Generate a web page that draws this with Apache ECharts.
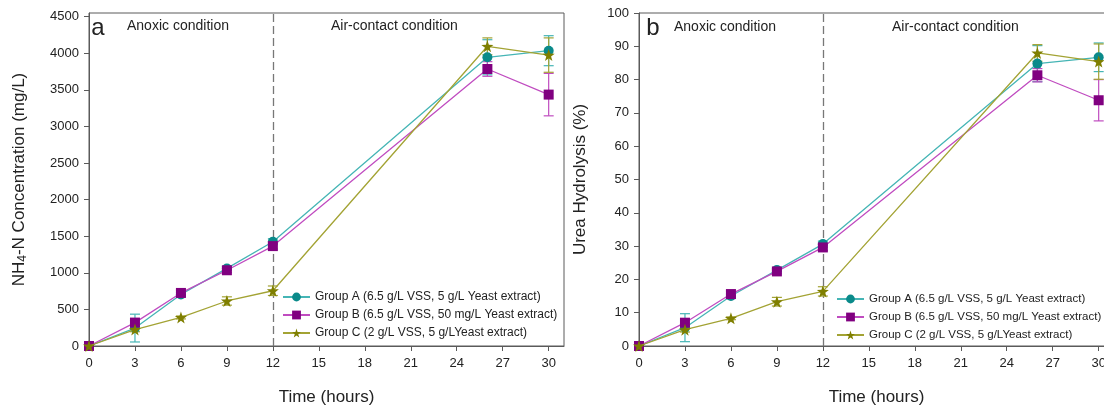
<!DOCTYPE html>
<html>
<head>
<meta charset="utf-8">
<script src="https://cdn.jsdelivr.net/npm/echarts@6/dist/echarts.min.js"></script>
<style>
  html, body { margin: 0; padding: 0; background: #fff; }
  #chart { width: 1104px; height: 409px; }
</style>
</head>
<body>
<div id="chart"></div>
<script>
// Sampling times (hours)
const times = [0, 3, 6, 9, 12, 26, 30];
const groupNames = [
  'Group A (6.5 g/L VSS, 5 g/L Yeast extract)',
  'Group B (6.5 g/L VSS, 50 mg/L Yeast extract)',
  'Group C (2 g/L VSS, 5 g/LYeast extract)'
];

// Panel a: NH4-N concentration (mg/L), mean and error
const nh4A = [0, 245, 705, 1060, 1425, 3945, 4035];
const nh4AErr = [10, 190, 30, 25, 40, 240, 205];
const nh4B = [0, 320, 725, 1035, 1365, 3785, 3435];
const nh4BErr = [10, 30, 40, 30, 40, 100, 290];
const nh4C = [0, 225, 390, 615, 755, 4095, 3975];
const nh4CErr = [10, 30, 20, 57, 65, 115, 235];

// Panel b: urea hydrolysis (%), mean and error
const ureaA = [0, 5.5, 15.0, 22.8, 30.6, 84.8, 86.7];
const ureaAErr = [0.2, 4.2, 0.6, 0.5, 0.9, 5.4, 4.3];
const ureaB = [0, 7.0, 15.6, 22.4, 29.6, 81.3, 73.8];
const ureaBErr = [0.2, 0.7, 0.9, 0.7, 0.9, 2.0, 6.2];
const ureaC = [0, 4.9, 8.3, 13.3, 16.4, 88.0, 85.4];
const ureaCErr = [0.2, 0.7, 0.4, 1.3, 1.4, 2.5, 5.3];

// Tick labels
const timeTicks = [0, 3, 6, 9, 12, 15, 18, 21, 24, 27, 30];
const nh4Ticks = [0, 500, 1000, 1500, 2000, 2500, 3000, 3500, 4000, 4500];
const ureaTicks = [0, 10, 20, 30, 40, 50, 60, 70, 80, 90, 100];

// Phase boundary (hours)
const phaseSwitch = 12;

const styles = [
  { marker: '#0a8a8a', line: '#45b5b5', symbol: 'circle', size: 10 },
  { marker: '#800080', line: '#c04cc0', symbol: 'rect', size: 10 },
  { marker: '#7f7f00', line: '#a3a334', symbol: 'path://M0,-10L2.35,-3.24L9.51,-3.09L3.8,1.24L5.88,8.09L0,4L-5.88,8.09L-3.8,1.24L-9.51,-3.09L-2.35,-3.24Z', size: 12 }
];

const axisColor = '#5a5a5a';
const textColor = '#222';
const fontFamily = 'Liberation Sans, Arial, sans-serif';

function errorRenderer(color) {
  return function (params, api) {
    const x = api.value(0), y = api.value(1), e = api.value(2);
    const top = api.coord([x, y + e]);
    const bot = api.coord([x, y - e]);
    const hw = 5;
    const st = { stroke: color, lineWidth: 1.2 };
    return {
      type: 'group',
      children: [
        { type: 'line', shape: { x1: top[0], y1: top[1], x2: bot[0], y2: bot[1] }, style: st },
        { type: 'line', shape: { x1: top[0] - hw, y1: top[1], x2: top[0] + hw, y2: top[1] }, style: st },
        { type: 'line', shape: { x1: bot[0] - hw, y1: bot[1], x2: bot[0] + hw, y2: bot[1] }, style: st }
      ]
    };
  };
}

function panelSeries(idx, sets) {
  const out = [];
  sets.forEach(([vals, errs], k) => {
    const s = styles[k];
    out.push({
      type: 'custom',
      xAxisIndex: idx, yAxisIndex: idx,
      renderItem: errorRenderer(s.line),
      data: times.map((t, i) => [t, vals[i], errs[i]]),
      encode: { x: 0, y: 1 },
      z: 1, silent: true
    });
  });
  sets.forEach(([vals], k) => {
    const s = styles[k];
    const ser = {
      type: 'line',
      name: groupNames[k],
      xAxisIndex: idx, yAxisIndex: idx,
      data: times.map((t, i) => [t, vals[i]]),
      symbol: s.symbol,
      symbolSize: s.size,
      showAllSymbol: true,
      lineStyle: { color: s.line, width: 1.3 },
      itemStyle: { color: s.marker, borderColor: s.marker, borderWidth: 0 },
      z: 3 + k,
      emphasis: { disabled: true }
    };
    if (k === 0) {
      ser.markLine = {
        silent: true,
        symbol: 'none',
        label: { show: false },
        lineStyle: { color: '#777', type: [8, 4], width: 1.3 },
        data: [{ xAxis: phaseSwitch }],
        z: 0
      };
    }
    out.push(ser);
  });
  return out;
}

const plainNumber = v => String(v);

function xAxisFor(idx) {
  return {
    type: 'value', gridIndex: idx, min: 0, max: 31,
    axisLine: { show: true, lineStyle: { color: axisColor, width: 1 } },
    axisTick: { show: true, length: 5, customValues: timeTicks, lineStyle: { color: axisColor } },
    axisLabel: { customValues: timeTicks, formatter: plainNumber, fontSize: 13, color: textColor, margin: 11, fontFamily: fontFamily },
    splitLine: { show: false },
    name: 'Time (hours)', nameLocation: 'middle', nameGap: 43,
    nameTextStyle: { fontSize: 17, color: textColor, fontFamily: fontFamily }
  };
}

function yAxisFor(idx, max, ticks, name, gap) {
  return {
    type: 'value', gridIndex: idx, min: 0, max: max,
    axisLine: { show: true, lineStyle: { color: axisColor, width: 1 } },
    axisTick: { show: true, length: 5, customValues: ticks, lineStyle: { color: axisColor } },
    axisLabel: { customValues: ticks, formatter: plainNumber, fontSize: 13, color: textColor, margin: 10, fontFamily: fontFamily },
    splitLine: { show: false },
    name: name, nameLocation: 'middle', nameGap: gap,
    nameTextStyle: {
      fontSize: 17, color: textColor, fontFamily: fontFamily,
      rich: { sub: { fontSize: 12, padding: [8, 0, 0, 0], color: textColor, fontFamily: fontFamily } }
    }
  };
}

function legendFor(left, top, fs) {
  return {
    data: groupNames, orient: 'vertical', left: left, top: top,
    itemWidth: 27, itemHeight: 11, itemGap: 6, padding: 0,
    selectedMode: false,
    textStyle: { fontSize: fs, color: textColor, fontFamily: fontFamily }
  };
}

function label(text, x, y, fs, align) {
  return {
    type: 'text', x: x, y: y, silent: true,
    style: { text: text, fontSize: fs, fill: textColor, align: align || 'left', verticalAlign: 'middle', fontFamily: fontFamily }
  };
}

const gridBase = {
  top: 13, width: 475, height: 333, show: true,
  borderColor: axisColor, borderWidth: 1, backgroundColor: 'transparent',
  containLabel: false, outerBoundsMode: 'none'
};

const chart = echarts.init(document.getElementById('chart'), null, { renderer: 'canvas' });
chart.setOption({
  backgroundColor: '#fff',
  animation: false,
  grid: [
    Object.assign({ left: 89 }, gridBase),
    Object.assign({ left: 639 }, gridBase)
  ],
  xAxis: [xAxisFor(0), xAxisFor(1)],
  yAxis: [
    yAxisFor(0, 4550, nh4Ticks, 'NH{sub|4}-N Concentration (mg/L)', 60),
    yAxisFor(1, 100, ureaTicks, 'Urea Hydrolysis (%)', 50)
  ],
  legend: [legendFor(282, 291, 12), legendFor(836, 293, 11.5)],
  graphic: [
    label('a', 98, 28, 24, 'center'),
    label('Anoxic condition', 127, 26, 14),
    label('Air-contact condition', 331, 26, 14),
    label('b', 653, 28, 24, 'center'),
    label('Anoxic condition', 674, 27, 14),
    label('Air-contact condition', 892, 27, 14)
  ],
  series: [
    ...panelSeries(0, [[nh4A, nh4AErr], [nh4B, nh4BErr], [nh4C, nh4CErr]]),
    ...panelSeries(1, [[ureaA, ureaAErr], [ureaB, ureaBErr], [ureaC, ureaCErr]])
  ]
});
</script>
</body>
</html>
